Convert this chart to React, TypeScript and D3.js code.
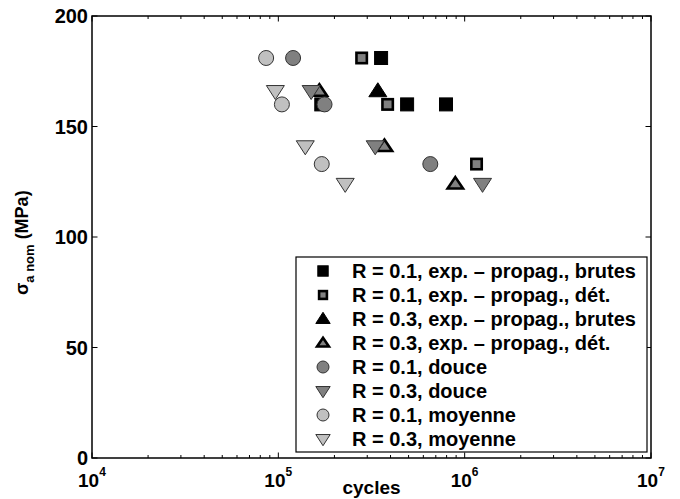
import React from "react";
import * as d3 from "d3";

// [cycles, sigma_a nom (MPa)]
const r01ExpBrutes: [number, number][] = [[356000, 181], [170000, 160], [491000, 160], [794000, 160]];
const r01ExpDet: [number, number][] = [[280000, 181], [386000, 160], [1158000, 133]];
const r03ExpBrutes: [number, number][] = [[342000, 166]];
const r03ExpDet: [number, number][] = [[166000, 166], [371000, 141], [891000, 124]];
const r01Douce: [number, number][] = [[120000, 181], [177000, 160], [654000, 133]];
const r03Douce: [number, number][] = [[150000, 166], [331000, 141], [1247000, 124]];
const r01Moyenne: [number, number][] = [[86000, 181], [104500, 160], [171000, 133]];
const r03Moyenne: [number, number][] = [[96400, 166], [139500, 141], [228500, 124]];

const legendLabels = [
  "R = 0.1, exp. \u2013 propag., brutes",
  "R = 0.1, exp. \u2013 propag., d\u00e9t.",
  "R = 0.3, exp. \u2013 propag., brutes",
  "R = 0.3, exp. \u2013 propag., d\u00e9t.",
  "R = 0.1, douce",
  "R = 0.3, douce",
  "R = 0.1, moyenne",
  "R = 0.3, moyenne",
];
const yTicks = [0, 50, 100, 150, 200];
const xDecades = [4, 5, 6, 7];

const DARK = "#808080";
const LIGHT = "#c0c0c0";

type Style = { shape: "square" | "up" | "down" | "circle"; fill: string; stroke: string; sw: number };

const series: { data: [number, number][]; style: Style }[] = [
  { data: r01ExpBrutes, style: { shape: "square", fill: "#000", stroke: "#000", sw: 1 } },
  { data: r01ExpDet, style: { shape: "square", fill: DARK, stroke: "#000", sw: 2.6 } },
  { data: r03ExpBrutes, style: { shape: "up", fill: "#000", stroke: "#000", sw: 1 } },
  { data: r03ExpDet, style: { shape: "up", fill: DARK, stroke: "#000", sw: 2.6 } },
  { data: r01Douce, style: { shape: "circle", fill: DARK, stroke: "#333", sw: 1 } },
  { data: r03Douce, style: { shape: "down", fill: DARK, stroke: "#333", sw: 1 } },
  { data: r01Moyenne, style: { shape: "circle", fill: LIGHT, stroke: "#333", sw: 1 } },
  { data: r03Moyenne, style: { shape: "down", fill: LIGHT, stroke: "#333", sw: 1 } },
];

const FONT = "'Liberation Sans', Arial, Helvetica, sans-serif";

function Marker({ x, y, st, scale = 1 }: { x: number; y: number; st: Style; scale?: number }) {
  const inset = st.sw > 1.5 ? st.sw / 2 : 0;
  if (st.shape === "square") {
    const s = 13 * scale - inset * 2;
    return <rect x={x - s / 2} y={y - s / 2} width={s} height={s} fill={st.fill} stroke={st.stroke} strokeWidth={st.sw} />;
  }
  if (st.shape === "circle") {
    return <circle cx={x} cy={y} r={7.5 * scale} fill={st.fill} stroke={st.stroke} strokeWidth={st.sw} />;
  }
  const w = (18 * scale - inset * 2) / 2;
  const h = 14 * scale - inset * 2;
  const pts =
    st.shape === "up"
      ? [[x, y - h * 0.6], [x + w, y + h * 0.4], [x - w, y + h * 0.4]]
      : [[x, y + h * 0.6], [x + w, y - h * 0.4], [x - w, y - h * 0.4]];
  return <polygon points={pts.map((p) => p.join(",")).join(" ")} fill={st.fill} stroke={st.stroke} strokeWidth={st.sw} strokeLinejoin="miter" />;
}

export default function App() {
  const width = 680;
  const height = 499;
  const x = d3.scaleLog().domain([1e4, 1e7]).range([92, 651]);
  const y = d3.scaleLinear().domain([0, 200]).range([458, 16]);
  const [x0, x1] = x.range();
  const [y0, y1] = y.range();

  const minor: number[] = [];
  xDecades.slice(0, -1).forEach((d) => {
    for (let k = 2; k <= 9; k++) minor.push(k * Math.pow(10, d));
  });

  const lg = { x: 296, y: 257, w: 351, h: 195 };

  return (
    <svg width={width} height={height} style={{ position: "absolute", left: 0, top: 0, background: "#fff" }} fontFamily={FONT} fontWeight="bold">
      <rect x={0} y={0} width={width} height={height} fill="#fff" />

      {/* ticks */}
      <g stroke="#000" strokeWidth={1}>
        {minor.map((v) => (
          <g key={v}>
            <line x1={x(v)} x2={x(v)} y1={y0} y2={y0 - 3} />
            <line x1={x(v)} x2={x(v)} y1={y1} y2={y1 + 3} />
          </g>
        ))}
        {xDecades.map((d) => (
          <g key={d}>
            <line x1={x(Math.pow(10, d))} x2={x(Math.pow(10, d))} y1={y0} y2={y0 - 5.5} />
            <line x1={x(Math.pow(10, d))} x2={x(Math.pow(10, d))} y1={y1} y2={y1 + 5.5} />
          </g>
        ))}
        {yTicks.map((t) => (
          <g key={t}>
            <line x1={x0} x2={x0 + 5.5} y1={y(t)} y2={y(t)} />
            <line x1={x1} x2={x1 - 5.5} y1={y(t)} y2={y(t)} />
          </g>
        ))}
      </g>

      {/* data */}
      {series.map((s, i) => (
        <g key={i}>
          {s.data.map(([c, v], j) => (
            <Marker key={j} x={x(c)} y={y(v)} st={s.style} />
          ))}
        </g>
      ))}

      {/* axes box */}
      <rect x={x0} y={y1} width={x1 - x0} height={y0 - y1} fill="none" stroke="#000" strokeWidth={1.5} />

      {/* y tick labels */}
      {yTicks.map((t) => (
        <text key={t} x={88} y={y(t)} dy="0.36em" textAnchor="end" fontSize={20}>
          {t}
        </text>
      ))}

      {/* x tick labels */}
      {xDecades.map((d) => (
        <text key={d} x={x(Math.pow(10, d)) - 14} y={487} fontSize={19}>
          10
          <tspan dy={-11} fontSize={12}>
            {d}
          </tspan>
        </text>
      ))}

      <text x={(x0 + x1) / 2} y={494} textAnchor="middle" fontSize={19}>
        cycles
      </text>

      <text transform="translate(28,295) rotate(-90)" fontSize={18}>
        {"\u03c3"}
        <tspan dy={6} fontSize={13}>a nom</tspan>
        <tspan dy={-6}> (MPa)</tspan>
      </text>

      {/* legend */}
      <rect x={lg.x} y={lg.y} width={lg.w} height={lg.h} fill="#fff" stroke="#000" strokeWidth={1.2} />
      {series.map((s, i) => {
        const cy = lg.y + 14 + i * 24;
        return (
          <g key={i}>
            <Marker x={323} y={cy} st={s.style} scale={0.8} />
            <text x={352} y={cy} dy="0.36em" fontSize={20}>
              {legendLabels[i]}
            </text>
          </g>
        );
      })}
    </svg>
  );
}
